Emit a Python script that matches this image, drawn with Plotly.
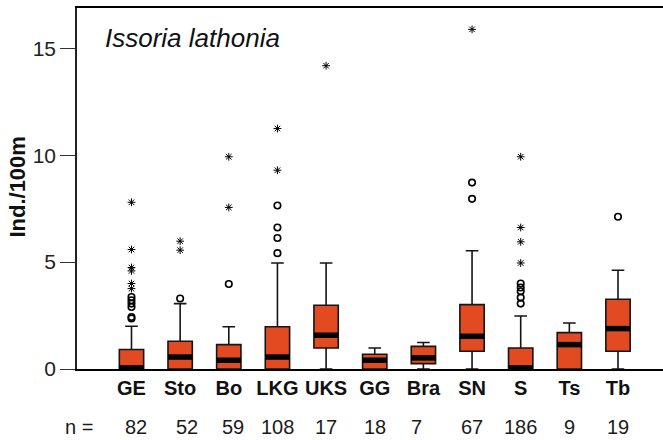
import plotly.graph_objects as go

# ---------------- data ----------------
categories = ['GE', 'Sto', 'Bo', 'LKG', 'UKS', 'GG', 'Bra', 'SN', 'S', 'Ts', 'Tb']
n_counts = [82, 52, 59, 108, 17, 18, 7, 67, 186, 9, 19]
q1 = [0, 0, 0, 0, 0.98, 0, 0.25, 0.83, 0, 0, 0.83]
median = [0.05, 0.56, 0.41, 0.56, 1.58, 0.41, 0.52, 1.53, 0.05, 1.14, 1.89]
q3 = [0.91, 1.30, 1.14, 1.98, 2.98, 0.69, 1.06, 3.01, 0.98, 1.70, 3.26]
lower_fence = [0, 0, 0, 0, 0, 0, 0, 0, 0, 0, 0]
upper_fence = [2.0, 3.06, 1.98, 4.96, 4.96, 0.98, 1.24, 5.53, 2.48, 2.15, 4.62]
circle_outliers = [
    [2.36, 2.43, 2.90, 3.06, 3.22, 3.37],
    [3.30],
    [3.98],
    [5.42, 6.13, 6.62, 7.65],
    [],
    [],
    [],
    [7.96, 8.72],
    [3.06, 3.34, 3.64, 3.81, 4.0],
    [],
    [7.12],
]
star_outliers = [
    [3.76, 4.0, 4.59, 4.75, 5.59, 7.80],
    [5.56, 5.98],
    [7.56, 9.93],
    [9.30, 11.25],
    [14.19],
    [],
    [],
    [15.89],
    [4.96, 5.95, 6.62, 9.93],
    [],
    [],
]
y_ticks = [0, 5, 10, 15]
title_text = 'Issoria lathonia'
y_label = 'Ind./100m'

# ---------------- style ----------------
FONT = 'Liberation Sans, Arial, Helvetica, sans-serif'
BOX_FILL = '#E24A22'
BOX_W = 0.5
n_label_xshift = [5, 7, 4, 0, 0, 0, -7, 0, 0, 0, 0]

pos = list(range(len(categories)))

fig = go.Figure()

fig.add_trace(go.Box(
    x=pos, q1=q1, median=median, q3=q3,
    lowerfence=lower_fence, upperfence=upper_fence,
    width=BOX_W, whiskerwidth=0.52,
    fillcolor=BOX_FILL,
    line=dict(color='#151515', width=1.6),
    boxpoints=False, hoverinfo='skip', showlegend=False,
))

# thick median bars
mx, my = [], []
for i, m in enumerate(median):
    mx += [i - BOX_W / 2, i + BOX_W / 2, None]
    my += [m, m, None]
fig.add_trace(go.Scatter(x=mx, y=my, mode='lines',
                         line=dict(color='black', width=5.5),
                         hoverinfo='skip', showlegend=False))

# open-circle outliers
cx, cy = [], []
for i, vals in enumerate(circle_outliers):
    for v in vals:
        cx.append(i)
        cy.append(v)
fig.add_trace(go.Scatter(x=cx, y=cy, mode='markers',
                         marker=dict(symbol='circle-open', size=6.5,
                                     color='black', line=dict(width=1.6, color='black')),
                         hoverinfo='skip', showlegend=False, cliponaxis=False))

# asterisk outliers (extreme values)
sx, sy = [], []
for i, vals in enumerate(star_outliers):
    for v in vals:
        sx.append(i)
        sy.append(v)
fig.add_trace(go.Scatter(x=sx, y=sy, mode='markers',
                         marker=dict(symbol='asterisk-open', size=6.5,
                                     color='black', line=dict(width=1.0, color='black')),
                         hoverinfo='skip', showlegend=False, cliponaxis=False))

annotations = []
# n row
for i, c in enumerate(n_counts):
    annotations.append(dict(x=i, y=-0.162, xref='x', yref='paper', text=str(c),
                            showarrow=False, xshift=n_label_xshift[i],
                            xanchor='center', yanchor='middle',
                            font=dict(family=FONT, size=20, color='#1a1a1a')))
annotations.append(dict(x=0.031, y=-0.162, xref='paper', yref='paper', text='n =',
                        showarrow=False, xanchor='right', yanchor='middle',
                        font=dict(family=FONT, size=20, color='#1a1a1a')))

# title inside plot
annotations.append(dict(x=0.044, y=0.917, xref='paper', yref='paper',
                        text='<i>' + title_text + '</i>', showarrow=False,
                        xanchor='left', yanchor='middle',
                        font=dict(family=FONT, size=26, color='#111')))

# y-axis label
annotations.append(dict(x=-0.1015, y=0.504, xref='paper', yref='paper',
                        text='<b>' + y_label + '</b>', showarrow=False,
                        textangle=-90, xanchor='center', yanchor='middle',
                        font=dict(family=FONT, size=22, color='#111')))

fig.update_layout(
    width=663, height=440,
    margin=dict(l=77, r=0, t=8, b=71),
    paper_bgcolor='white', plot_bgcolor='white',
    font=dict(family=FONT, color='#111'),
    showlegend=False,
    annotations=annotations,
    xaxis=dict(range=[-1.12, 10.925], tickvals=pos, ticktext=categories,
               showline=True, linecolor='black', linewidth=2, mirror=True,
               ticks='', showgrid=False, zeroline=False,
               tickfont=dict(family=FONT, size=20, color='#111', weight='bold')),
    yaxis=dict(range=[0, 16.89], tickvals=y_ticks,
               ticks='outside', ticklen=15, tickwidth=1.3, tickcolor='#333',
               showline=True, linecolor='#222', linewidth=1.5,
               showgrid=False, zeroline=False,
               tickfont=dict(family=FONT, size=21, color='#222')),
)

fig.write_html('out.html')
